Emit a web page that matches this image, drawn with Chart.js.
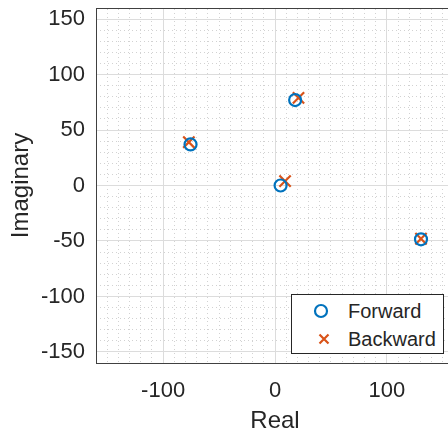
<!DOCTYPE html>
<html>
<head>
<meta charset="utf-8">
<script src="https://cdn.jsdelivr.net/npm/chart.js@4.4.1/dist/chart.umd.min.js"></script>
<style>
  html, body { margin: 0; padding: 0; background: #fff; overflow: hidden; }
  #wrap { position: relative; width: 456px; height: 438px; }
  #legend {
    position: absolute; left: 291px; top: 294px; width: 153px; height: 60px;
    box-sizing: border-box; border: 1px solid #262626; background: #fff;
    font-family: 'Liberation Sans', Arial, sans-serif; font-size: 20px; color: #262626;
  }
  #legend .row { position: absolute; left: 0; height: 24px; line-height: 24px; }
  #legend svg { position: absolute; left: 17px; top: 0; }
  #legend span { position: absolute; left: 56px; top: 0; white-space: nowrap; }
</style>
</head>
<body>
<div id="wrap">
  <canvas id="zplane" width="456" height="438"></canvas>
  <div id="legend">
    <div class="row" style="top:4px">
      <svg width="24" height="24"><circle cx="12" cy="12" r="6" fill="none" stroke="#0072BD" stroke-width="2.2"/></svg>
      <span>Forward</span>
    </div>
    <div class="row" style="top:32px">
      <svg width="24" height="24"><path d="M10.5 7.5 L19.5 16.5 M19.5 7.5 L10.5 16.5" stroke="#D95319" stroke-width="2.2"/></svg>
      <span>Backward</span>
    </div>
  </div>
</div>
<script>
const forwardReal = [-75.5, 18, 5, 130.5];
const forwardImag = [37, 77, 0, -48.5];
const backwardReal = [-77, 21, 9, 130.5];
const backwardImag = [39, 79, 4, -48];

const xTickValues = [-100, 0, 100];
const yTickValues = [-150, -100, -50, 0, 50, 100, 150];

const axisColor = '#262626';
const fontFamily = "'Liberation Sans', Arial, sans-serif";

function toPoints(xs, ys) {
  return xs.map((x, i) => ({ x, y: ys[i] }));
}

// fixed axis sizes so the plot box sits where the reference has it
function fixSize(size) {
  return (scale) => {
    scale.paddingTop = 0;
    scale.paddingBottom = 0;
    scale.paddingLeft = 0;
    scale.paddingRight = 0;
    if (scale.isHorizontal()) {
      scale.height = size;
    } else {
      scale.width = size;
    }
  };
}

const minorAxis = (position) => ({
  type: 'linear',
  position,
  min: -160,
  max: 160,
  ticks: { display: false, stepSize: 10, includeBounds: false },
  grid: { color: '#d2d2d2', lineWidth: 1, drawTicks: false },
  border: { display: true, color: '#404040', width: 1, dash: [1, 3] },
  afterFit: fixSize(0)
});

new Chart(document.getElementById('zplane').getContext('2d'), {
  type: 'scatter',
  data: {
    datasets: [
      {
        label: 'Forward',
        data: toPoints(forwardReal, forwardImag),
        pointStyle: 'circle',
        pointRadius: 6,
        borderWidth: 2.2,
        borderColor: '#0072BD',
        backgroundColor: 'rgba(0,0,0,0)'
      },
      {
        label: 'Backward',
        data: toPoints(backwardReal, backwardImag),
        pointStyle: 'crossRot',
        pointRadius: 8,
        borderWidth: 2.2,
        borderColor: '#D95319',
        backgroundColor: '#D95319'
      }
    ]
  },
  options: {
    responsive: false,
    animation: false,
    events: [],
    layout: { autoPadding: false, padding: { top: 8, right: 2, bottom: 0, left: 0 } },
    plugins: {
      legend: { display: false },
      tooltip: { enabled: false }
    },
    scales: {
      xMinor: minorAxis('top'),
      yMinor: minorAxis('right'),
      x: {
        type: 'linear',
        position: 'bottom',
        min: -160,
        max: 160,
        afterBuildTicks: (s) => { s.ticks = xTickValues.map(v => ({ value: v })); },
        afterFit: fixSize(75),
        ticks: { color: axisColor, font: { family: fontFamily, size: 22 }, padding: 15, maxRotation: 0 },
        grid: { color: '#dcdcdc', lineWidth: 1, drawTicks: false },
        border: { display: true, color: '#404040', width: 1 },
        title: {
          display: true,
          text: 'Real',
          color: axisColor,
          font: { family: fontFamily, size: 24 },
          padding: { top: 2, bottom: 2 }
        }
      },
      y: {
        type: 'linear',
        position: 'left',
        min: -160,
        max: 160,
        afterBuildTicks: (s) => { s.ticks = yTickValues.map(v => ({ value: v })); },
        afterFit: fixSize(96),
        ticks: { color: axisColor, font: { family: fontFamily, size: 22 }, padding: 11 },
        grid: { color: '#dcdcdc', lineWidth: 1, drawTicks: false },
        border: { display: true, color: '#404040', width: 1 },
        title: {
          display: true,
          text: 'Imaginary',
          color: axisColor,
          font: { family: fontFamily, size: 24 },
          padding: { top: 7, bottom: 5 }
        }
      }
    }
  }
});
</script>
</body>
</html>
